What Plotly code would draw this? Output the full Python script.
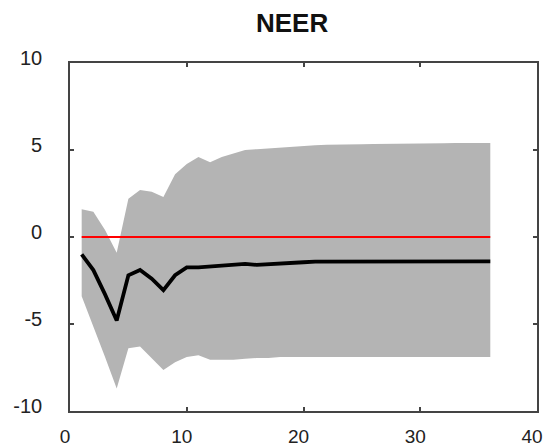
import plotly.graph_objects as go

# Impulse response horizon (periods)
horizon = list(range(1, 37))

# Median response of NEER
median = [-1.0, -1.9, -3.3, -4.8, -2.2, -1.9, -2.4, -3.05, -2.2, -1.75,
          -1.75, -1.7, -1.7, -1.6, -1.55, -1.6, -1.55, -1.5, -1.45, -1.45,
          -1.42, -1.42, -1.4, -1.4, -1.4, -1.4, -1.4, -1.4, -1.4, -1.4,
          -1.4, -1.4, -1.4, -1.4, -1.4, -1.4]

# Upper and lower bounds of the confidence band
upper = [1.6, 1.45, 0.4, -0.9, 2.2, 2.7, 2.6, 2.3, 3.6, 4.2,
         4.6, 4.3, 4.6, 4.8, 5.0, 5.05, 5.1, 5.15, 5.2, 5.25,
         5.28, 5.3, 5.3, 5.32, 5.33, 5.35, 5.35, 5.36, 5.37, 5.38,
         5.38, 5.39, 5.4, 5.4, 5.4, 5.4]
lower = [-3.4, -5.1, -6.9, -8.7, -6.4, -6.3, -7.0, -7.65, -7.2, -6.9,
         -6.8, -7.05, -7.05, -7.05, -7.0, -6.95, -6.95, -6.9, -6.9, -6.9,
         -6.9, -6.9, -6.9, -6.9, -6.9, -6.9, -6.9, -6.9, -6.9, -6.9,
         -6.9, -6.9, -6.9, -6.9, -6.9, -6.9]

zero = [0.0] * len(horizon)

x_ticks = [0, 10, 20, 30, 40]
x_labels = ["0", "10", "20", "30", "40"]
y_ticks = [-10, -5, 0, 5, 10]
y_labels = ["-10", "-5", "0", "5", "10"]

fig = go.Figure()

# Confidence band
fig.add_trace(go.Scatter(x=horizon, y=lower, mode="lines",
                         line=dict(width=0, color="#b4b4b4"),
                         hoverinfo="skip", showlegend=False))
fig.add_trace(go.Scatter(x=horizon, y=upper, mode="lines",
                         line=dict(width=0, color="#b4b4b4"),
                         fill="tonexty", fillcolor="#b4b4b4",
                         hoverinfo="skip", showlegend=False))

# Zero reference line
fig.add_trace(go.Scatter(x=horizon, y=zero, mode="lines",
                         line=dict(color="#ff0000", width=2),
                         showlegend=False))

# Median response
fig.add_trace(go.Scatter(x=horizon, y=median, mode="lines",
                         line=dict(color="#000000", width=3.8),
                         showlegend=False))

axis_style = dict(
    showline=True, linecolor="#444444", linewidth=1.6, mirror="ticks",
    ticks="inside", ticklen=4, tickwidth=1.5, tickcolor="#444444",
    showgrid=False, zeroline=False, automargin=False,
    ticklabeloverflow="allow",
)
label_font = "Liberation Sans, Arial, sans-serif"

fig.update_xaxes(range=[0, 40], tickvals=x_ticks, ticktext=x_labels,
                 ticklabelstandoff=7, ticklabelshift=-5,
                 tickfont=dict(family=label_font, size=19, color="#222222"),
                 **axis_style)
fig.update_yaxes(range=[-10, 10], tickvals=y_ticks, ticktext=y_labels,
                 ticklabelstandoff=22, ticklabelshift=-5,
                 tickfont=dict(family=label_font, size=20, color="#222222"),
                 **axis_style)

fig.add_annotation(text="<b>NEER</b>", xref="paper", yref="paper",
                   x=(292 - 70) / (537 - 70), y=1.0, yshift=40,
                   showarrow=False, xanchor="center", yanchor="middle",
                   font=dict(family=label_font, size=26, color="#111111"))

fig.update_layout(
    width=546, height=448,
    margin=dict(l=70, r=9, t=63, b=37),
    paper_bgcolor="white", plot_bgcolor="white",
    showlegend=False,
)

fig.write_html("out.html")
